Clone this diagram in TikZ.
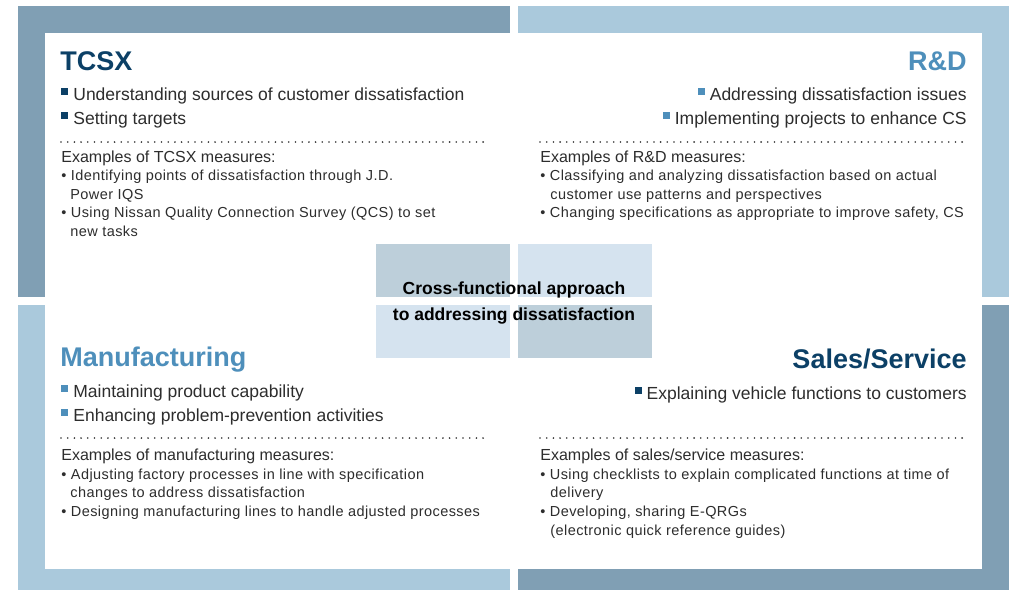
\documentclass[tikz,border=0pt]{standalone}
\usepackage{fontspec}
\setmainfont{Liberation Sans}
\newfontfamily\itemfont[LetterSpace=3]{Liberation Sans}

\definecolor{frameDark}{RGB}{128,159,180}
\definecolor{frameLight}{RGB}{170,201,220}
\definecolor{boxDark}{RGB}{189,207,218}
\definecolor{boxLight}{RGB}{213,227,239}
\definecolor{navyTitle}{RGB}{12,64,102}
\definecolor{steelTitle}{RGB}{78,143,187}
\definecolor{bodyText}{RGB}{45,45,45}

\tikzset{every picture/.style={line width=0.75pt}}
\tikzset{
  headline/.style={font=\fontsize{27}{30}\selectfont\bfseries, inner sep=0pt},
  lead/.style={font=\fontsize{17.5}{21}\selectfont, text=bodyText, inner sep=0pt},
  exmp/.style={font=\fontsize{16}{19}\selectfont, text=bodyText, inner sep=0pt},
  itm/.style={font=\itemfont\fontsize{14.5}{18.5}\selectfont, text=bodyText, inner sep=0pt},
  crosstext/.style={font=\fontsize{17.5}{20}\selectfont\bfseries, anchor=base, inner sep=0pt},
  dotline/.style={draw=black!80, line width=1.8pt, line cap=round, dash pattern=on 0pt off 6.7pt}
}
\newcommand{\sqmark}[1]{\textcolor{#1}{\rule[5pt]{7pt}{7pt}}\hspace{5pt}}

\begin{document}
\begin{tikzpicture}[x=1pt,y=1pt,yscale=-1]
	\useasboundingbox (0,0) rectangle (1016,590);

	%Shape: Rectangle [frames]
	\fill [frameDark] (18,6) rectangle (510,297) ;
	\fill [frameLight] (518,6) rectangle (1009,297) ;
	\fill [frameLight] (18,305) rectangle (510,590) ;
	\fill [frameDark] (518,305) rectangle (1009,590) ;
	%Shape: Rectangle [white panel]
	\fill [white] (45,33) rectangle (982,569) ;
	%Shape: Rectangle [centre squares]
	\fill [boxDark] (376,244) rectangle (510,297) ;
	\fill [boxLight] (518,244) rectangle (652,297) ;
	\fill [boxLight] (376,305) rectangle (510,358) ;
	\fill [boxDark] (518,305) rectangle (652,358) ;

	%Straight Lines [dotted separators]
	\draw [dotline] (61,142) -- (488,142) ;
	\draw [dotline] (540,142) -- (968,142) ;
	\draw [dotline] (61,438) -- (488,438) ;
	\draw [dotline] (540,438) -- (968,438) ;

	% Text Node
	\draw (514,294) node [crosstext] (crossA) {Cross-functional approach};
	% Text Node
	\draw (514,320) node [crosstext] (crossB) {to addressing dissatisfaction};

	% Text Node
	\draw (60,70) node [headline, text=navyTitle, anchor=base west] (tcsxTitle) {TCSX};
	% Text Node
	\draw (61,100) node [lead, anchor=base west] (tcsxA) {\sqmark{navyTitle}Understanding sources of customer dissatisfaction};
	% Text Node
	\draw (61,124) node [lead, anchor=base west] (tcsxB) {\sqmark{navyTitle}Setting targets};
	% Text Node
	\draw (61,162) node [exmp, anchor=base west] (tcsxEx) {Examples of TCSX measures:};
	% Text Node
	\draw (61,180.5) node [itm, anchor=base west] (tcsxI) {• Identifying points of dissatisfaction through J.D.};
	% Text Node
	\draw (70,199) node [itm, anchor=base west] (tcsxIb) {Power IQS};
	% Text Node
	\draw (61,217.5) node [itm, anchor=base west] (tcsxJ) {• Using Nissan Quality Connection Survey (QCS) to set};
	% Text Node
	\draw (70,236) node [itm, anchor=base west] (tcsxJb) {new tasks};

	% Text Node
	\draw (967,70) node [headline, text=steelTitle, anchor=base east] (rdTitle) {R\&D};
	% Text Node
	\draw (967,100) node [lead, anchor=base east] (rdA) {\sqmark{steelTitle}Addressing dissatisfaction issues};
	% Text Node
	\draw (967,124) node [lead, anchor=base east] (rdB) {\sqmark{steelTitle}Implementing projects to enhance CS};
	% Text Node
	\draw (540,162) node [exmp, anchor=base west] (rdEx) {Examples of R\&D measures:};
	% Text Node
	\draw (540,180.5) node [itm, anchor=base west] (rdI) {• Classifying and analyzing dissatisfaction based on actual};
	% Text Node
	\draw (550,199) node [itm, anchor=base west] (rdIb) {customer use patterns and perspectives};
	% Text Node
	\draw (540,217.5) node [itm, anchor=base west] (rdJ) {• Changing specifications as appropriate to improve safety, CS};

	% Text Node
	\draw (60,366) node [headline, text=steelTitle, anchor=base west] (mfgTitle) {Manufacturing};
	% Text Node
	\draw (61,397) node [lead, anchor=base west] (mfgA) {\sqmark{steelTitle}Maintaining product capability};
	% Text Node
	\draw (61,421) node [lead, anchor=base west] (mfgB) {\sqmark{steelTitle}Enhancing problem-prevention activities};
	% Text Node
	\draw (61,460) node [exmp, anchor=base west] (mfgEx) {Examples of manufacturing measures:};
	% Text Node
	\draw (61,479) node [itm, anchor=base west] (mfgI) {• Adjusting factory processes in line with specification};
	% Text Node
	\draw (70,497.5) node [itm, anchor=base west] (mfgIb) {changes to address dissatisfaction};
	% Text Node
	\draw (61,516.5) node [itm, anchor=base west] (mfgJ) {• Designing manufacturing lines to handle adjusted processes};

	% Text Node
	\draw (967,368) node [headline, text=navyTitle, anchor=base east] (salesTitle) {Sales/Service};
	% Text Node
	\draw (967,399) node [lead, anchor=base east] (salesA) {\sqmark{navyTitle}Explaining vehicle functions to customers};
	% Text Node
	\draw (540,460) node [exmp, anchor=base west] (salesEx) {Examples of sales/service measures:};
	% Text Node
	\draw (540,479) node [itm, anchor=base west] (salesI) {• Using checklists to explain complicated functions at time of};
	% Text Node
	\draw (550,497.5) node [itm, anchor=base west] (salesIb) {delivery};
	% Text Node
	\draw (540,516.5) node [itm, anchor=base west] (salesJ) {• Developing, sharing E-QRGs};
	% Text Node
	\draw (550,535) node [itm, anchor=base west] (salesJb) {(electronic quick reference guides)};

\end{tikzpicture}
\end{document}
